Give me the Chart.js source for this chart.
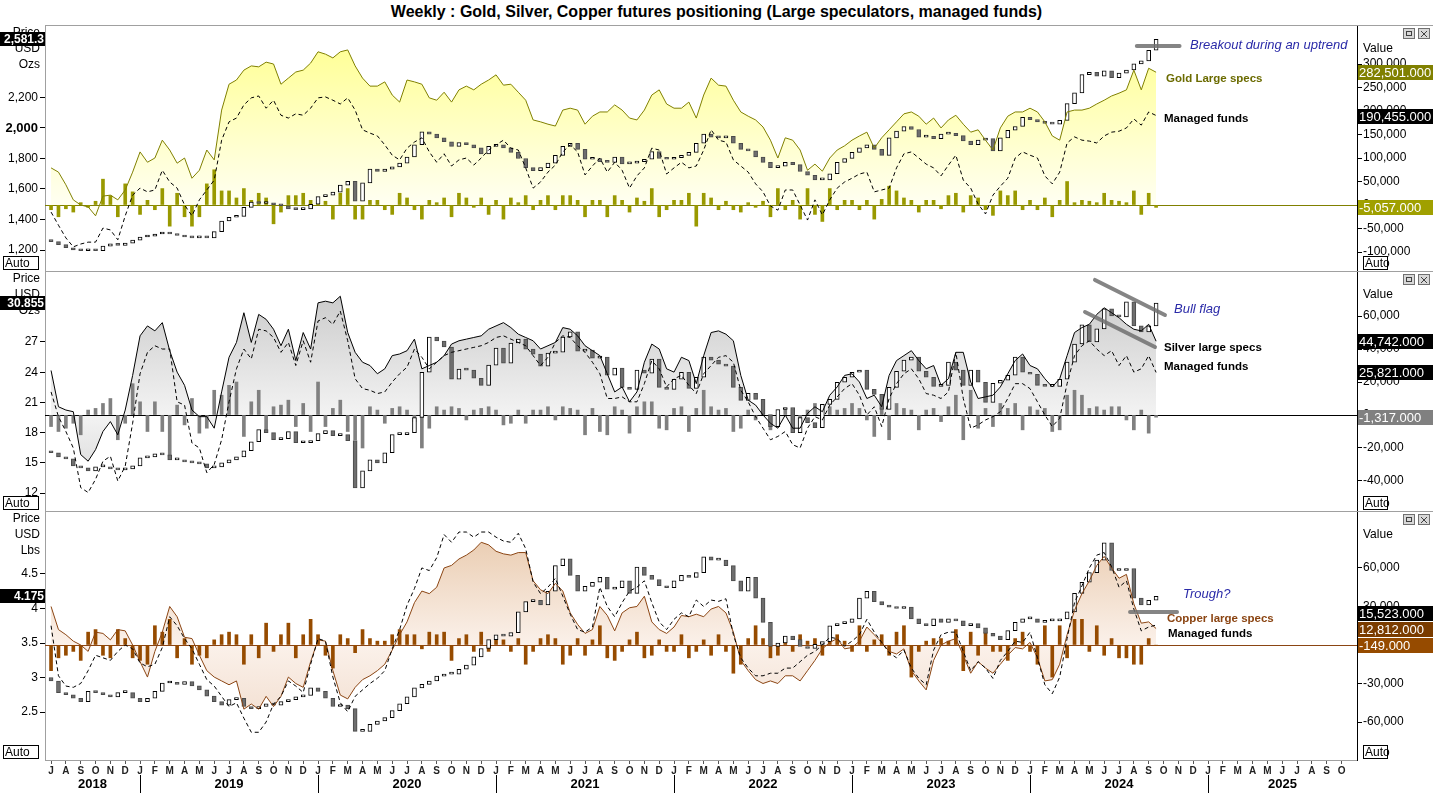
<!DOCTYPE html>
<html><head><meta charset="utf-8">
<script src="https://cdn.jsdelivr.net/npm/chart.js@4.4.1/dist/chart.umd.min.js"></script>
<style>
body{margin:0;width:1433px;height:793px;overflow:hidden;background:#fff;position:relative;font-family:"Liberation Sans",Arial,sans-serif}
canvas{position:absolute;left:0}
.t{position:absolute;white-space:nowrap;line-height:16px}
.note{font-style:italic;font-size:13px;color:#2a2aa8}
.lab{font-weight:bold;font-size:11.5px;color:#000}
.hl{position:absolute;height:1px;background:#a0a0a0}
</style></head><body>
<div class="t" style="top:3px;left:0;width:1433px;text-align:center;font-weight:bold;font-size:16px;line-height:18px">Weekly : Gold, Silver, Copper futures positioning (Large speculators, managed funds)</div>
<div class="hl" style="top:25px;left:45px;width:1388px"></div>
<canvas id="c1" width="1433" height="245" style="top:26px;width:1433px;height:245px"></canvas>
<div class="hl" style="top:271px;left:45px;width:1388px"></div>
<canvas id="c2" width="1433" height="239" style="top:272px;width:1433px;height:239px"></canvas>
<div class="hl" style="top:511px;left:45px;width:1388px"></div>
<canvas id="c3" width="1433" height="281" style="top:512px;width:1433px;height:281px"></canvas>

<div class="t note" style="left:1190px;top:37px">Breakout during an uptrend</div>
<div class="t lab" style="left:1166px;top:70px;color:#6b6b00">Gold Large specs</div>
<div class="t lab" style="left:1164px;top:110px">Managed funds</div>
<div class="t note" style="left:1174px;top:301px">Bull flag</div>
<div class="t lab" style="left:1164px;top:339px">Silver large specs</div>
<div class="t lab" style="left:1164px;top:358px">Managed funds</div>
<div class="t note" style="left:1183px;top:586px">Trough?</div>
<div class="t lab" style="left:1167px;top:610px;color:#8B4513">Copper large specs</div>
<div class="t lab" style="left:1168px;top:625px">Managed funds</div>

<script>
// ---------------- DATA ----------------
// semi-monthly samples, starting July 2018
const startYear = 2018.5;
const samplesPerYear = 24;
const xMin = 2018.466, xMax = 2025.837;
const years = [2018, 2019, 2020, 2021, 2022, 2023, 2024, 2025];
const monthLetters = ['J','F','M','A','M','J','J','A','S','O','N','D'];

// Gold (USD/oz) and COT positions (thousand contracts)
const goldOpen0 = 1262;
const goldClose = [
1255,1235,1215,1200,1195,1200,1195,1225,1240,1230,
1245,1265,1285,1290,1305,1315,1305,1295,1285,1280,
1285,1280,1320,1390,1415,1420,1480,1515,1505,1510,
1495,1490,1470,1465,1470,1500,1550,1560,1580,1625,
1650,1520,1640,1730,1715,1730,1745,1770,1810,1890,
1975,1960,1935,1910,1880,1905,1890,1870,1830,1880,
1890,1870,1840,1800,1740,1720,1740,1770,1820,1880,
1900,1860,1795,1800,1780,1775,1810,1765,1770,1780,
1795,1845,1800,1795,1805,1820,1840,1900,1960,1940,
1935,1945,1900,1860,1850,1810,1775,1740,1750,1775,
1760,1715,1690,1660,1660,1700,1775,1800,1840,1870,
1890,1860,1820,1935,1980,2010,1990,1940,1945,1930,
1960,1965,1950,1915,1890,1920,1930,1850,1935,1985,
2010,2070,2055,2040,2030,2025,2050,2160,2230,2350,
2365,2340,2375,2330,2360,2380,2420,2440,2510,2581.3];
const goldSpecsK = [
79,70,43,11,0,-4,-23,19,21,11,
32,70,113,91,100,138,117,89,100,57,
74,117,96,202,257,266,287,296,294,304,
300,257,270,283,287,302,326,321,313,326,
330,296,270,253,253,262,234,219,266,262,
257,228,223,240,219,245,253,245,257,266,
277,255,257,240,223,181,177,172,168,202,
206,202,172,189,198,198,213,202,185,181,
202,234,245,215,206,206,219,185,234,270,
255,253,223,198,189,181,166,138,100,143,
138,117,74,87,72,100,117,126,138,147,
155,121,143,160,177,194,198,189,172,185,
164,181,191,172,155,160,138,117,164,189,
198,198,206,198,177,147,138,198,202,202,
206,215,223,232,238,245,287,245,291,282.501];
const goldMFK = [
-15,-43,-70,-89,-83,-79,-79,-49,-53,-74,
-23,21,36,28,32,74,49,36,0,-23,
11,32,53,138,177,185,213,228,232,206,
223,191,185,194,191,206,228,230,223,215,
228,202,160,153,147,128,106,96,121,134,
143,113,91,109,83,96,100,85,100,117,
128,138,121,117,79,36,49,70,85,113,
128,113,64,83,100,70,91,74,36,62,
79,121,117,66,79,91,79,83,117,160,
138,134,96,83,70,45,28,-2,-11,32,
32,0,-32,11,-21,11,36,49,57,66,
70,28,32,36,79,109,113,100,87,79,
62,85,106,53,36,2,-19,21,40,57,
100,113,106,100,62,45,70,132,145,138,
136,132,147,155,157,164,183,170,198,190.455];
const goldChgK = [
-10,-25,-8,-15,5,-5,8,55,20,-25,
45,28,-20,10,-10,35,-45,25,-25,-45,
-25,45,75,30,30,15,35,10,25,15,
-40,-15,20,20,25,10,12,8,-30,25,
35,-30,-30,10,10,-10,-20,25,15,-10,
-30,10,5,15,-25,25,15,-5,15,-20,
10,-30,15,5,20,-10,10,20,-10,20,
20,10,-25,10,10,-25,20,10,-15,15,
8,35,-25,-10,10,10,25,-45,25,15,
-10,8,-10,-15,5,-5,8,-25,35,-10,
10,-30,35,-20,-35,35,-10,10,10,-10,
10,-30,12,40,30,15,10,-15,10,10,
-8,20,25,-15,20,15,-10,-22,30,20,
30,-10,10,-10,15,-25,10,50,5,10,
8,5,25,10,8,5,30,-20,25,-5.057];

// Silver (USD/oz)
const silverOpen0 = 16.2;
const silverClose = [
16.0,15.6,15.4,14.7,14.5,14.2,14.6,14.6,14.4,14.3,
14.4,14.7,15.5,15.6,15.9,15.8,15.3,15.3,15.1,15.0,
14.9,14.5,14.6,15.0,15.3,15.6,16.2,17.1,18.3,18.0,
17.3,17.4,18.1,17.0,17.0,17.2,17.9,18.2,17.7,17.8,
17.2,12.5,14.2,15.3,15.0,16.0,17.8,17.8,18.0,19.5,
24.0,27.5,27.1,26.5,23.3,24.3,24.2,23.4,22.7,24.7,
26.4,24.9,26.9,27.3,26.3,25.8,24.6,25.9,26.0,27.5,
28.0,26.1,26.2,25.4,25.5,23.7,24.4,22.5,22.3,24.2,
23.9,25.3,22.5,22.3,23.3,24.0,22.4,23.5,25.5,25.2,
24.8,24.6,22.5,21.2,21.9,21.3,19.8,18.6,20.3,20.5,
18.0,19.5,19.0,18.5,20.8,21.3,23.0,23.5,24.0,24.2,
22.3,21.8,20.3,22.5,24.1,25.2,25.5,24.1,23.5,22.6,
22.7,25.0,24.2,22.7,24.2,23.0,21.0,22.9,23.2,23.7,
25.5,24.0,23.8,22.7,22.6,22.6,23.3,25.0,26.8,28.7,
27.0,28.3,30.3,29.6,29.5,31.0,28.6,28.0,28.6,30.855];
const silverSpecsK = [
27,5,3,2,-24,-28,-21,-10,-4,-12,
3,24,48,54,51,56,39,26,18,3,
-1,-1,-8,14,35,44,62,44,61,58,
52,42,52,33,50,40,68,69,68,72,
50,38,32,30,25,28,36,37,39,46,
28,30,32,36,43,45,46,47,48,52,
54,56,53,49,47,45,40,42,44,53,
52,48,42,39,36,25,14,17,8,14,
32,43,40,28,26,35,33,19,36,50,
51,49,45,24,9,6,0,-5,-8,0,
-8,-8,1,5,2,12,17,24,25,20,
10,12,5,24,33,36,39,33,28,30,
18,22,38,38,20,10,11,12,17,25,
33,37,30,28,22,17,22,36,50,53,
55,61,65,62,59,55,52,51,55,44.742];
const silverMFK = [
14,-1,-10,-20,-44,-47,-39,-28,-25,-40,
-31,-5,25,38,42,40,40,8,6,-17,
-20,-35,-30,-15,8,28,40,34,52,51,
47,38,44,30,45,32,57,59,55,63,
45,22,16,15,13,14,20,25,29,40,
35,28,32,36,38,39,40,41,42,44,
47,48,46,44,42,36,30,35,44,48,
47,42,38,32,25,10,10,11,8,8,
19,33,28,17,22,24,18,13,25,30,
35,36,32,15,8,-1,-8,-15,-13,-10,
-18,-20,-8,-1,-3,6,11,16,19,12,
0,5,-7,10,19,25,28,22,13,12,
10,14,38,10,-8,-6,-3,-1,2,10,
19,19,16,8,0,-7,-2,19,36,42,
45,40,36,39,30,36,26,28,36,25.821];
const silverChgK = [
-7,-10,-8,-5,-12,3,4,7,10,-15,
-5,19,8,-10,8,-10,-25,6,-6,10,
-11,-8,15,12,18,20,-13,8,15,-9,
5,6,9,-7,7,-10,20,-7,4,9,
-10,-15,-20,5,3,-5,4,5,3,-4,
-20,-8,5,3,5,4,-3,3,4,5,
3,-6,-5,3,-5,3,3,5,-3,5,
4,3,-12,4,-10,-12,5,3,-11,5,
8,8,-8,-9,4,5,-10,4,15,5,
3,4,-10,-8,3,-3,7,-9,-5,4,
3,-10,3,7,-5,5,3,4,7,4,
-3,-13,4,-15,7,4,3,-9,3,4,
-4,5,12,-15,15,-8,4,-7,7,4,
7,-9,5,3,4,-10,-9,12,15,12,
4,5,3,5,5,-3,-9,3,-11,-1.317];

// Copper (USD/lb)
const copperOpen0 = 3.0;
const copperClose = [
2.95,2.78,2.75,2.70,2.65,2.80,2.78,2.75,2.72,2.78,
2.78,2.70,2.65,2.70,2.80,2.92,2.92,2.90,2.94,2.88,
2.82,2.73,2.65,2.60,2.68,2.70,2.58,2.55,2.58,2.62,
2.60,2.65,2.68,2.72,2.74,2.85,2.80,2.70,2.58,2.60,
2.55,2.22,2.22,2.32,2.37,2.42,2.52,2.62,2.72,2.85,
2.90,2.95,3.02,3.05,3.05,3.12,3.18,3.30,3.42,3.55,
3.62,3.60,3.65,3.95,4.10,4.12,4.05,4.25,4.62,4.72,
4.48,4.25,4.32,4.38,4.45,4.28,4.30,4.40,4.22,4.60,
4.48,4.42,4.33,4.30,4.40,4.48,4.45,4.52,4.75,4.70,
4.70,4.62,4.40,4.25,4.45,4.15,3.80,3.45,3.50,3.60,
3.55,3.45,3.42,3.48,3.52,3.75,3.78,3.80,3.85,4.15,
4.25,4.10,4.05,4.02,4.00,4.02,3.85,3.78,3.75,3.85,
3.80,3.85,3.82,3.75,3.78,3.72,3.64,3.60,3.55,3.68,
3.80,3.85,3.85,3.80,3.82,3.82,3.85,3.95,4.22,4.38,
4.52,4.70,4.95,4.55,4.55,4.58,4.15,4.05,4.12,4.175];
const copperSpecsK = [
30,12,8,3,0,-5,10,9,4,12,
11,0,-13,-25,-5,10,30,22,6,5,
-8,-20,-25,-28,-31,-28,-50,-46,-50,-40,
-48,-40,-25,-30,-33,-13,4,3,-20,-39,
-42,-33,-27,-24,-20,-15,-4,8,18,33,
42,40,45,60,62,67,70,74,80,78,
73,71,70,72,72,50,43,40,48,42,
25,16,9,12,30,23,11,25,29,30,
38,18,12,9,14,23,22,24,22,28,
30,25,10,-12,-20,-27,-30,-28,-30,-24,
-24,-28,-20,-12,-3,2,5,-3,-2,3,
14,8,2,-5,-7,-3,-20,-28,-35,-12,
0,3,5,-8,-22,-13,-18,-22,-15,-8,
-2,-3,2,-10,-28,-27,-15,8,27,40,
50,62,69,60,52,55,32,17,18,12.812];
const copperMFK = [
15,-24,-32,-33,-30,-20,-8,-10,-12,-5,
0,-3,-14,-17,-15,-2,22,15,5,-3,
-15,-27,-32,-40,-48,-45,-57,-68,-68,-60,
-46,-40,-28,-32,-37,-15,5,3,-25,-45,
-52,-40,-35,-30,-26,-20,-3,12,31,44,
60,58,68,86,80,88,88,84,88,88,
84,81,80,87,75,49,40,45,52,38,
24,12,10,14,45,30,22,33,42,45,
50,33,18,12,20,25,22,35,30,35,
34,36,8,-10,-18,-24,-24,-22,-22,-18,
-18,-13,-8,-5,0,6,5,-1,3,8,
20,10,2,-6,-10,-4,-18,-26,-31,-4,
8,10,10,-5,-20,-13,-18,-26,-12,-5,
3,2,10,-10,-31,-38,-25,5,33,46,
60,70,72,61,45,50,28,11,14,15.523];
const copperChgK = [
-20,-10,-8,-5,-12,10,12,-8,-10,12,
5,-10,-12,-15,15,10,20,-10,5,-15,
-8,-10,4,8,10,8,-15,8,-10,17,
-5,8,17,-10,8,20,8,-8,-18,8,
5,-6,12,5,3,3,8,12,8,8,
-3,10,8,10,-12,5,8,-5,10,-5,
5,4,-5,5,-15,-5,5,8,5,-15,
-8,5,-8,4,15,-10,-12,-5,4,10,
-10,-8,4,-5,-5,8,-10,-5,4,-8,
8,-5,-22,-15,5,15,5,-10,-8,5,
-5,8,3,5,-8,5,8,3,-5,15,
-5,4,8,-8,10,15,-25,-5,3,5,
5,3,12,-20,10,-8,10,-5,-5,-12,
5,10,-5,-15,15,-25,15,-10,20,20,
-5,15,-8,5,-10,-10,-15,-15,5,-0.149];

// axis ticks
const goldPriceTicks = [1200, 1400, 1600, 1800, 2000, 2200];
const goldValueTicks = [-100000, -50000, 0, 50000, 100000, 150000, 200000, 250000, 300000];
const silverPriceTicks = [12, 15, 18, 21, 24, 27];
const silverValueTicks = [-40000, -20000, 0, 20000, 40000, 60000];
const copperPriceTicks = [2.5, 3, 3.5, 4, 4.5];
const copperValueTicks = [-60000, -30000, 0, 30000, 60000];

// drawn annotations (date, price)
const goldBreakout = [{x: 2024.60, y: 2538}, {x: 2024.84, y: 2538}];
const silverFlagUpper = [{x: 2024.365, y: 33.16}, {x: 2024.758, y: 29.68}];
const silverFlagLower = [{x: 2024.309, y: 29.98}, {x: 2024.702, y: 26.50}];
const copperTrough = [{x: 2024.562, y: 3.95}, {x: 2024.826, y: 3.95}];

// ---------------- BUILD ----------------
const FONT = '"Liberation Sans", Arial, sans-serif';
Chart.defaults.font.family = FONT;
const dates = goldClose.map((_, i) => startYear + i / samplesPerYear);
const months = [];
for (let m = 6; m <= (2025 - 2018) * 12 + 9; m++) months.push(2018 + m / 12);

const pts = (arr, mul) => arr.map((v, i) => ({x: dates[i], y: v * mul}));
const candles = (close, open0) => close.map((c, i) => ({x: dates[i], y: [i ? close[i - 1] : open0, c]}));

function grad(top, zero, bottom) {
  return (ctx) => {
    const ch = ctx.chart, a = ch.chartArea;
    if (!a) return zero;
    const z = ch.scales.yR.getPixelForValue(0);
    const g = ch.ctx.createLinearGradient(0, a.top, 0, a.bottom);
    const f = Math.min(Math.max((z - a.top) / (a.bottom - a.top), 0.01), 0.99);
    g.addColorStop(0, top); g.addColorStop(f, zero); g.addColorStop(1, bottom);
    return g;
  };
}

const fmtVal = v => (v * 1000).toLocaleString('en-US', {minimumFractionDigits: 3, maximumFractionDigits: 3});

const deco = {
  id: 'deco',
  beforeDatasetsDraw(chart, args, o) {
    const c = chart.ctx, a = chart.chartArea;
    const y = Math.round(chart.scales.yR.getPixelForValue(0)) + 0.5;
    c.save(); c.strokeStyle = o.zeroColor; c.lineWidth = 1;
    c.beginPath(); c.moveTo(a.left, y); c.lineTo(a.right, y); c.stroke(); c.restore();
  },
  afterDraw(chart, args, o) {
    const c = chart.ctx, a = chart.chartArea, W = chart.width;
    c.save();
    c.font = '12px ' + FONT; c.fillStyle = '#000'; c.textBaseline = 'middle';
    c.textAlign = 'right';
    o.header.forEach((h, i) => c.fillText(h, 40, a.top + 7 + i * 16));
    c.textAlign = 'left';
    c.fillText('Value', 1363, a.top + 23);
    [[1403, 'min'], [1418, 'x']].forEach(([x, k]) => {
      c.fillStyle = '#d8d8d8'; c.fillRect(x, a.top + 2, 12, 11);
      c.strokeStyle = '#707070'; c.lineWidth = 1; c.strokeRect(x + 0.5, a.top + 2.5, 11, 10);
      c.strokeStyle = '#404040';
      if (k === 'min') { c.strokeRect(x + 3.5, a.top + 5.5, 5, 4); }
      else { c.beginPath(); c.moveTo(x + 3, a.top + 5); c.lineTo(x + 9, a.top + 11); c.moveTo(x + 9, a.top + 5); c.lineTo(x + 3, a.top + 11); c.stroke(); }
    });
    c.strokeStyle = '#000';
    [[3, 36], [1363, 25]].forEach(([x, w]) => {
      c.fillStyle = '#fff'; c.fillRect(x, a.bottom - 15, w, 14);
      c.strokeRect(x + 0.5, a.bottom - 14.5, w - 1, 13);
      c.fillStyle = '#000'; c.textAlign = 'left'; c.fillText('Auto', x + 2, a.bottom - 7.5);
    });
    const yR = chart.scales.yR;
    const boxes = o.boxes.map(b => ({...b, y: yR.getPixelForValue(b.v * 1000)})).sort((p, q) => q.y - p.y);
    for (let i = 1; i < boxes.length; i++) boxes[i].y = Math.min(boxes[i].y, boxes[i - 1].y - 16);
    boxes.forEach(b => {
      const t = Math.round(b.y - 7);
      c.fillStyle = b.bg; c.fillRect(a.right + 1, t, W - a.right - 1, 15);
      c.fillStyle = '#fff'; c.textAlign = 'left'; c.font = '13px ' + FONT;
      c.fillText(fmtVal(b.v), a.right + 2, t + 8);
    });
    const yL = chart.scales.yL;
    const py = Math.round(yL.getPixelForValue(o.last) - 7);
    c.fillStyle = '#000'; c.fillRect(0, py, a.left, 14);
    c.fillStyle = '#fff'; c.textAlign = 'right'; c.font = 'bold 12px ' + FONT;
    c.fillText(o.last.toLocaleString('en-US', {minimumFractionDigits: o.dec, maximumFractionDigits: o.dec}), a.left - 1, py + 7.5);
    if (o.years) {
      const xs = chart.scales.x;
      c.font = 'bold 13px ' + FONT; c.fillStyle = '#000'; c.textAlign = 'center';
      years.forEach(yr => {
        const p = (xs.getPixelForValue(Math.max(yr, xMin)) + xs.getPixelForValue(Math.min(yr + 1, xMax))) / 2;
        c.fillText(String(yr), p, a.bottom + 24);
      });
      c.strokeStyle = '#000'; c.lineWidth = 1;
      years.slice(1).forEach(yr => {
        const p = Math.round(xs.getPixelForValue(yr)) + 0.5;
        c.beginPath(); c.moveTo(p, a.bottom + 15); c.lineTo(p, a.bottom + 33); c.stroke();
      });
    }
    c.restore();
  }
};

function makePanel(p) {
  const datasets = [
    {type: 'line', label: 'specs', data: pts(p.specs, 1000), yAxisID: 'yR', order: 2,
     borderColor: p.specsColor, borderWidth: 1, pointRadius: 0, tension: 0,
     fill: 'origin', backgroundColor: grad(...p.fill)},
    {type: 'line', label: 'mf', data: pts(p.mf, 1000), yAxisID: 'yR', order: 1,
     borderColor: '#000', borderWidth: 1, borderDash: [4, 3], pointRadius: 0, tension: 0, fill: false},
    {type: 'bar', label: 'chg', data: pts(p.chg, 1000), yAxisID: 'yR', order: 4,
     backgroundColor: p.barColor, borderWidth: 0, barThickness: 3, grouped: false},
    {type: 'bar', label: 'price', data: candles(p.close, p.open0), yAxisID: 'yL', order: 3,
     backgroundColor: ctx => (ctx.raw && ctx.raw.y[1] >= ctx.raw.y[0]) ? '#ffffff' : '#6e6e6e',
     borderColor: ctx => (ctx.raw && ctx.raw.y[1] >= ctx.raw.y[0]) ? '#000000' : '#4a4a4a',
     borderWidth: 1, borderSkipped: false, barThickness: 4, grouped: false, minBarLength: 2}
  ];
  p.notes.forEach(n => datasets.push({type: 'line', data: n, yAxisID: 'yL', order: 0,
    borderColor: 'rgba(112,112,112,0.85)', borderWidth: 4, borderCapStyle: 'round', pointRadius: 0, fill: false}));
  const fixW = w => s => { s.width = w; s.paddingTop = 0; s.paddingBottom = 0; };
  return new Chart(document.getElementById(p.id), {
    type: 'bar',
    data: {datasets},
    plugins: [deco],
    options: {
      responsive: false, animation: false, events: [],
      layout: {padding: 0, autoPadding: false},
      plugins: {legend: {display: false}, tooltip: {enabled: false},
        filler: {propagate: false, drawTime: 'beforeDatasetsDraw'},
        deco: {zeroColor: p.zeroColor, header: p.header, boxes: p.boxes, last: p.close[p.close.length - 1], dec: p.dec, years: p.xAxis}},
      scales: {
        x: {type: 'linear', min: xMin, max: xMax, offset: false, display: p.xAxis,
            afterBuildTicks: s => { s.ticks = months.map(v => ({value: v})); },
            afterFit: s => { if (p.xAxis) { s.height = 33; } else { s.height = 0; } s.paddingLeft = 0; s.paddingRight = 0; },
            grid: {drawOnChartArea: false, drawTicks: true, tickLength: 4, color: '#555', offset: false},
            border: {color: '#a0a0a0'},
            ticks: {autoSkip: false, maxRotation: 0, minRotation: 0, padding: 1, color: '#222',
                    font: {size: 10, weight: 'bold'},
                    callback: v => monthLetters[((Math.round((v - 2018) * 12) % 12) + 12) % 12]}},
        yL: {type: 'linear', position: 'left', min: p.yL[0], max: p.yL[1],
             afterBuildTicks: s => { s.ticks = p.lTicks.map(v => ({value: v})); },
             afterFit: fixW(45),
             grid: {drawOnChartArea: false, drawTicks: true, tickLength: 5, color: '#000'},
             border: {color: '#a0a0a0'},
             ticks: {padding: 2, color: '#000',
                     font: ctx => (ctx.tick && ctx.tick.value === p.boldTick) ? {size: 13, weight: 'bold'} : {size: 12},
                     callback: v => v.toLocaleString('en-US')}},
        yR: {type: 'linear', position: 'right', min: p.yR[0], max: p.yR[1],
             afterBuildTicks: s => { s.ticks = p.rTicks.map(v => ({value: v})); },
             afterFit: fixW(76),
             grid: {drawOnChartArea: false, drawTicks: true, tickLength: 5, color: '#000'},
             border: {color: '#000'},
             ticks: {padding: 1, color: '#000', font: {size: 12}, callback: v => v.toLocaleString('en-US')}}
      }
    }
  });
}

makePanel({id: 'c1', close: goldClose, open0: goldOpen0, specs: goldSpecsK, mf: goldMFK, chg: goldChgK,
  yL: [1062.3, 2668.8], yR: [-140400, 380900], lTicks: goldPriceTicks, rTicks: goldValueTicks, boldTick: 2000,
  specsColor: '#808000', barColor: '#999900', zeroColor: '#808000',
  fill: ['#ffff8a', '#fffff2', '#fffff2'], header: ['Price', 'USD', 'Ozs'], dec: 1,
  boxes: [{v: goldSpecsK[149], bg: '#808000'}, {v: goldMFK[149], bg: '#000'}, {v: goldChgK[149], bg: '#a0a000'}],
  notes: [goldBreakout], xAxis: false});
makePanel({id: 'c2', close: silverClose, open0: silverOpen0, specs: silverSpecsK, mf: silverMFK, chg: silverChgK,
  yL: [10.22, 33.95], yR: [-58200, 86700], lTicks: silverPriceTicks, rTicks: silverValueTicks, boldTick: null,
  specsColor: '#000', barColor: '#808080', zeroColor: '#000',
  fill: ['#c4c4c4', '#f3f3f3', '#cfcfcf'], header: ['Price', 'USD', 'Ozs'], dec: 3,
  boxes: [{v: silverSpecsK[149], bg: '#000'}, {v: silverMFK[149], bg: '#000'}, {v: silverChgK[149], bg: '#808080'}],
  notes: [silverFlagUpper, silverFlagLower], xAxis: false});
makePanel({id: 'c3', close: copperClose, open0: copperOpen0, specs: copperSpecsK, mf: copperMFK, chg: copperChgK,
  yL: [1.805, 5.398], yR: [-89600, 103600], lTicks: copperPriceTicks, rTicks: copperValueTicks, boldTick: null,
  specsColor: '#8B4513', barColor: '#964B00', zeroColor: '#8B4513',
  fill: ['#e6c4a4', '#fbf1ea', '#eed6c4'], header: ['Price', 'USD', 'Lbs'], dec: 3,
  boxes: [{v: copperSpecsK[149], bg: '#7a3c00'}, {v: copperMFK[149], bg: '#000'}, {v: copperChgK[149], bg: '#964B00'}],
  notes: [copperTrough], xAxis: true});
</script>
</body></html>
